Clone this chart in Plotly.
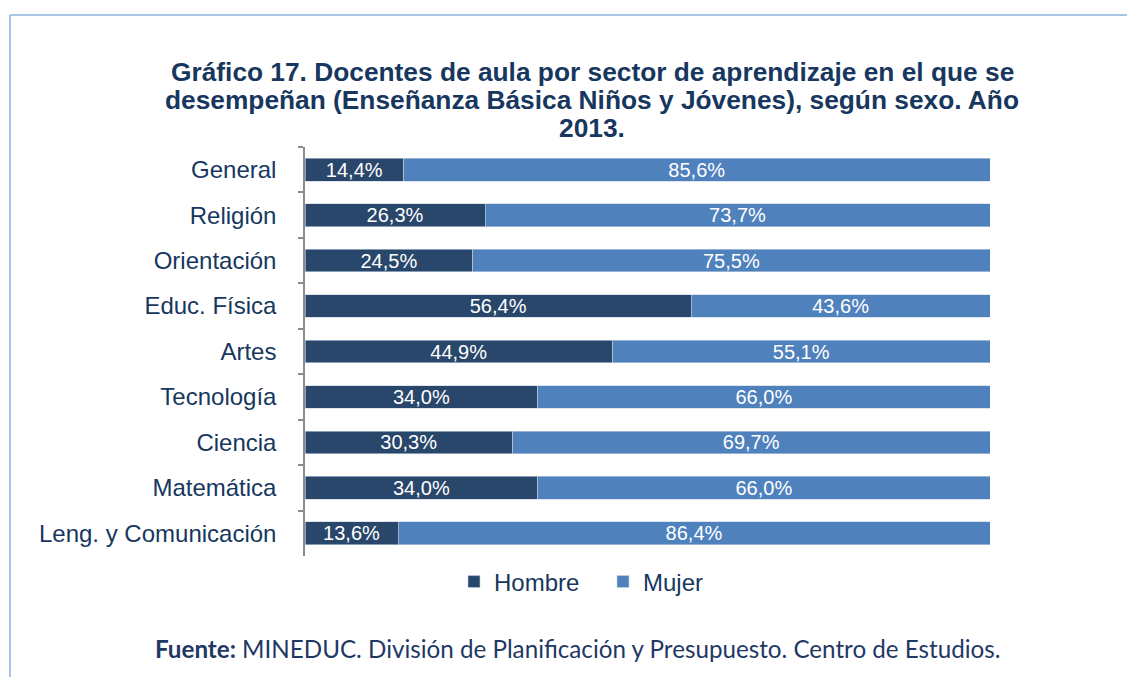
import plotly.graph_objects as go

categories = ["General", "Religión", "Orientación", "Educ. Física", "Artes",
              "Tecnología", "Ciencia", "Matemática", "Leng. y Comunicación"]
hombre = [14.4, 26.3, 24.5, 56.4, 44.9, 34.0, 30.3, 34.0, 13.6]
mujer = [85.6, 73.7, 75.5, 43.6, 55.1, 66.0, 69.7, 66.0, 86.4]

OFF = 8  # page body margin
W, H = 1135 - OFF, 677 - OFF
ML, MT = 305 - OFF, 147 - OFF
PR, PB = 990 - OFF, 556 - OFF
MR, MB = W - PR, H - PB
PW, PH = PR - ML, PB - MT

def px_x(x):
    return (x - OFF - ML) / PW

def px_y(y):
    return (PB - (y - OFF)) / PH

FONT = "Liberation Sans, Arial"
NAVY = "#17375e"

fig = go.Figure()
fig.add_trace(go.Bar(
    y=categories, x=hombre, name="Hombre", orientation="h",
    marker=dict(color="#29466b", line=dict(color="#c8d4e4", width=0.6)),
    texttemplate="%{x:.1f}%", textposition="inside", insidetextanchor="middle",
    textfont=dict(color="white", size=20, family=FONT),
))
fig.add_trace(go.Bar(
    y=categories, x=mujer, name="Mujer", orientation="h",
    marker=dict(color="#4f81bd", line=dict(color="#c8d4e4", width=0.6)),
    texttemplate="%{x:.1f}%", textposition="inside", insidetextanchor="middle",
    textfont=dict(color="white", size=20, family=FONT),
))

fig.update_layout(
    width=W, height=H,
    barmode="stack", bargap=0.5,
    separators=",.",
    uniformtext=dict(mode="show", minsize=18),
    plot_bgcolor="white", paper_bgcolor="white",
    margin=dict(l=ML, r=MR, t=MT, b=MB),
    font=dict(family=FONT, color=NAVY),
    xaxis=dict(range=[0, 100], visible=False, showgrid=False),
    yaxis=dict(
        autorange="reversed", showline=True, linecolor="#8c8c8c", linewidth=1.5,
        ticks="outside", tickson="boundaries", ticklen=5, tickcolor="#8c8c8c",
        tickwidth=1.5, ticklabelstandoff=22,
        tickfont=dict(size=24, color=NAVY), showgrid=False,
    ),
    legend=dict(
        orientation="h", x=px_x(454), xanchor="left", y=px_y(582), yanchor="middle",
        font=dict(size=24, color=NAVY), itemwidth=30, traceorder="normal",
        entrywidth=104, entrywidthmode="pixels",
    ),
    showlegend=True,
)

title_lines = [
    "Gráfico 17. Docentes de aula por sector de aprendizaje en el que se",
    "desempeñan (Enseñanza Básica Niños y Jóvenes), según sexo. Año",
    "2013.",
]
title_y = [72, 100, 128]
for line, ty in zip(title_lines, title_y):
    fig.add_annotation(
        text=f"<b>{line}</b>", xref="paper", yref="paper",
        x=px_x(592), y=px_y(ty), xanchor="center", yanchor="middle",
        showarrow=False, font=dict(size=26.3, color=NAVY, family=FONT),
    )

fig.add_annotation(
    text="<b>Fuente:</b> MINEDUC. División de Planificación y Presupuesto. Centro de Estudios.",
    xref="paper", yref="paper", x=px_x(577), y=px_y(648), xanchor="center", yanchor="middle",
    showarrow=False, font=dict(size=24.2, color="#1f3864", family="Lato, Open Sans"),
)

border = "#8db3e2"
fig.add_shape(type="line", xref="paper", yref="paper",
              x0=px_x(10), x1=px_x(10), y0=px_y(15), y1=px_y(700),
              line=dict(color=border, width=1.5))
fig.add_shape(type="line", xref="paper", yref="paper",
              x0=px_x(10), x1=px_x(1160), y0=px_y(15), y1=px_y(15),
              line=dict(color=border, width=1.5))

fig.write_html("out.html")
